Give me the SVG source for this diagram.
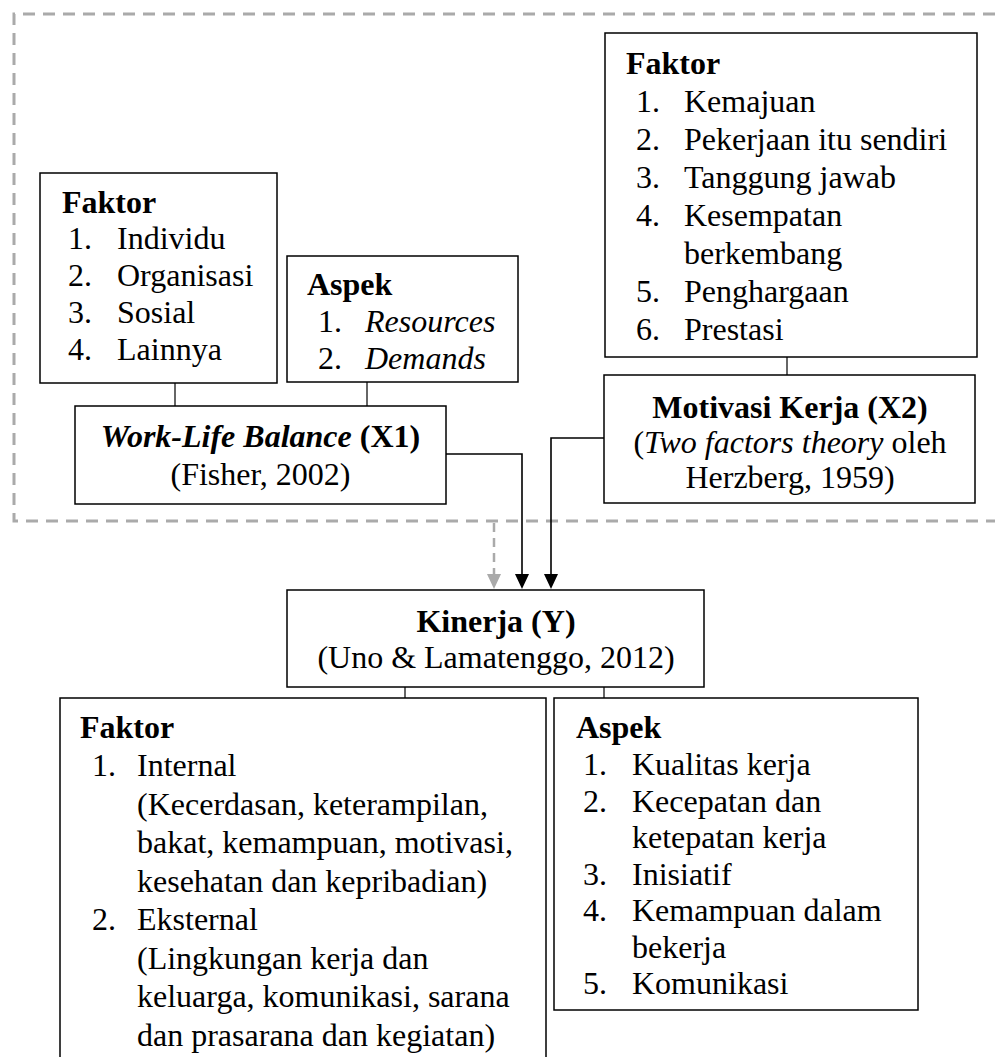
<svg xmlns="http://www.w3.org/2000/svg" width="995" height="1057" viewBox="0 0 995 1057">
<style>
text{font-family:"Liberation Serif","Times New Roman",serif;font-size:32px;fill:#000}
.b{font-weight:bold}
.i{font-style:italic}
.mid{text-anchor:middle}
.box{fill:#fff;stroke:#000;stroke-width:1.5}
.ln{fill:none;stroke:#333;stroke-width:1.5}
.arr{fill:none;stroke:#000;stroke-width:1.6}
.dash{fill:none;stroke:#aaa;stroke-width:3;stroke-dasharray:12 8}
</style>
<defs>
<marker id="ah" markerUnits="userSpaceOnUse" markerWidth="16" markerHeight="16" refX="7" refY="15" orient="auto-start-reverse" viewBox="0 0 14 16">
<path d="M0,0 L14,0 L7,15 Z" fill="#000"/>
</marker>
<marker id="ahg" markerUnits="userSpaceOnUse" markerWidth="16" markerHeight="16" refX="7" refY="15" viewBox="0 0 14 16">
<path d="M0,0 L14,0 L7,15 Z" fill="#aaa"/>
</marker>
</defs>
<g id="boundary">
<path class="dash" d="M995,14 L14,14 L14,521 L995,521"/>
</g>
<g id="connectors">
<line class="ln" x1="175" y1="383" x2="175" y2="406"/>
<line class="ln" x1="367" y1="382" x2="367" y2="406"/>
<line class="ln" x1="787" y1="357" x2="787" y2="375"/>
<line class="ln" x1="405" y1="687" x2="405" y2="698"/>
<line class="ln" x1="604" y1="687" x2="604" y2="698"/>
<path d="M494,523 L494,575" fill="none" stroke="#aaa" stroke-width="2.5" stroke-dasharray="9 6"/>
<path d="M494,574 L487,574 L494,589 L501,574 Z" fill="#aaa"/>
<path class="arr" d="M446,454 L522,454 L522,576"/>
<path d="M515,574 L529,574 L522,589 Z" fill="#000"/>
<path class="arr" d="M604,438 L551,438 L551,576"/>
<path d="M544,574 L558,574 L551,589 Z" fill="#000"/>
</g>
<g id="wlb-faktor">
<rect class="box" x="40" y="173" width="237" height="210"/>
<text class="b" x="62" y="213">Faktor</text>
<text x="68" y="249">1.</text><text x="117" y="249">Individu</text>
<text x="68" y="286">2.</text><text x="117" y="286">Organisasi</text>
<text x="68" y="323">3.</text><text x="117" y="323">Sosial</text>
<text x="68" y="360">4.</text><text x="117" y="360">Lainnya</text>
</g>
<g id="wlb-aspek">
<rect class="box" x="287" y="256" width="231" height="126"/>
<text class="b" x="307" y="295">Aspek</text>
<text x="318" y="332">1.</text><text class="i" x="365" y="332">Resources</text>
<text x="318" y="369">2.</text><text class="i" x="365" y="369">Demands</text>
</g>
<g id="wlb">
<rect class="box" x="75" y="406" width="371" height="98"/>
<text class="mid" x="260.5" y="447"><tspan class="b i">Work-Life Balance</tspan><tspan class="b"> (X1)</tspan></text>
<text class="mid" x="260.5" y="485">(Fisher, 2002)</text>
</g>
<g id="mk-faktor">
<rect class="box" x="605" y="33" width="372" height="324"/>
<text class="b" x="626" y="74">Faktor</text>
<text x="636" y="112">1.</text><text x="684" y="112">Kemajuan</text>
<text x="636" y="150">2.</text><text x="684" y="150">Pekerjaan itu sendiri</text>
<text x="636" y="188">3.</text><text x="684" y="188">Tanggung jawab</text>
<text x="636" y="226">4.</text><text x="684" y="226">Kesempatan</text>
<text x="684" y="264">berkembang</text>
<text x="636" y="302">5.</text><text x="684" y="302">Penghargaan</text>
<text x="636" y="340">6.</text><text x="684" y="340">Prestasi</text>
</g>
<g id="mk">
<rect class="box" x="604" y="375" width="371" height="128"/>
<text class="b mid" x="790" y="418">Motivasi Kerja (X2)</text>
<text class="mid" x="790" y="453">(<tspan class="i">Two factors theory</tspan> oleh</text>
<text class="mid" x="790" y="488">Herzberg, 1959)</text>
</g>
<g id="kinerja">
<rect class="box" x="287" y="590" width="417" height="97"/>
<text class="b mid" x="496" y="632">Kinerja (Y)</text>
<text class="mid" x="496" y="668">(Uno &amp; Lamatenggo, 2012)</text>
</g>
<g id="k-faktor">
<path class="box" d="M60,1060 L60,698 L546,698 L546,1060"/>
<text class="b" x="80" y="738">Faktor</text>
<text x="92" y="776">1.</text><text x="137" y="776">Internal</text>
<text x="137" y="815">(Kecerdasan, keterampilan,</text>
<text x="137" y="853">bakat, kemampuan, motivasi,</text>
<text x="137" y="892">kesehatan dan kepribadian)</text>
<text x="92" y="930">2.</text><text x="137" y="930">Eksternal</text>
<text x="137" y="969">(Lingkungan kerja dan</text>
<text x="137" y="1007">keluarga, komunikasi, sarana</text>
<text x="137" y="1046">dan prasarana dan kegiatan)</text>
</g>
<g id="k-aspek">
<rect class="box" x="554" y="698" width="364" height="312"/>
<text class="b" x="576" y="738">Aspek</text>
<text x="583" y="775">1.</text><text x="632" y="775">Kualitas kerja</text>
<text x="583" y="812">2.</text><text x="632" y="812">Kecepatan dan</text>
<text x="632" y="848">ketepatan kerja</text>
<text x="583" y="885">3.</text><text x="632" y="885">Inisiatif</text>
<text x="583" y="921">4.</text><text x="632" y="921">Kemampuan dalam</text>
<text x="632" y="958">bekerja</text>
<text x="583" y="994">5.</text><text x="632" y="994">Komunikasi</text>
</g>
</svg>
